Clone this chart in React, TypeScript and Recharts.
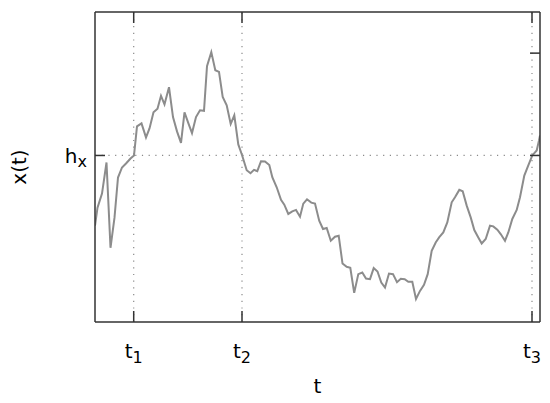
import React from 'react';
import { LineChart, Line, XAxis, YAxis, ReferenceLine } from 'recharts';

const times = [
  0, 2.5, 7, 11.5, 15.5, 19.5, 23, 27, 31, 35.5, 39, 42, 46.5, 51, 54.5, 58.5, 62.5, 66, 69.5, 74,
  78, 82, 86, 89.5, 93.5, 97, 101, 105, 109, 112, 116.3, 120.3, 124, 127.7, 131.7, 135.7, 139.3, 143.3, 147, 151.7,
  155.5, 159, 162.3, 166, 170, 174.3, 177.3, 181.7, 186, 189.3, 193.3, 197.3, 201, 205, 208.3, 212, 216.3, 220, 224.2, 228,
  231.7, 235.8, 240, 243.7, 247.5, 251.7, 255.3, 259.2, 263.3, 267.3, 271, 275, 278.7, 282.5, 286.3, 290, 294, 298, 302, 305.8,
  309.7, 313.3, 317.3, 321, 325, 329, 332.7, 336.7, 340.7, 344.3, 348.3, 352.3, 356.7, 360, 364.3, 367.7, 371.7, 375.7, 379.3, 383.3,
  386.7, 390.7, 395, 398.3, 402.3, 405.7, 410, 413.3, 417.3, 421.7, 425, 429.3, 433.3, 437.3, 441.7, 444, 445,
];

const values = [
  96, 114, 128, 159, 74, 104, 144, 154, 158, 163, 166, 195, 198, 184, 193, 209, 212.5, 225.5, 217, 234,
  204.3, 190, 178.5, 209, 197.7, 188.3, 204.3, 211, 210.5, 255, 269, 251, 249.3, 224.3, 216, 197.5, 206, 177, 166.5, 151.3,
  148.3, 151.7, 150.3, 160.3, 160, 156.5, 144.3, 134.3, 121.7, 117, 107.7, 110.3, 111.7, 105, 118, 122.3, 119, 118, 101, 92.7,
  93.7, 81, 85, 86, 58.3, 55, 54, 29, 47.7, 49.3, 43.3, 42.7, 53.7, 50.3, 39.3, 34.3, 48.3, 47.7, 39.7, 43,
  42.7, 40, 40, 23, 31, 37, 47.7, 71, 79.3, 84.5, 89.3, 99.3, 119.3, 124.3, 131.7, 130.3, 116, 104.3, 91.7, 84.3,
  78.3, 82.7, 96, 95.3, 92, 87.7, 81, 89.3, 102.7, 111.7, 124.3, 146, 156, 166, 171, 181, 186,
];

const timeTicks = [38.7, 147, 437];
const timeTickLabels = ['1', '2', '3'];
const levelTicks = [166];
const levelTickLabels = ['x'];
const rightTicks = [166, 268];

const data = times.map((t, i) => ({ t, x: values[i] }));

const FONT = '"DejaVu Sans", sans-serif';
const AX = '#333';
const DOT = '#8a8a8a';

const BottomTick = (props: any) => {
  const { x, y, payload } = props;
  const i = timeTicks.indexOf(payload.value);
  return (
    <g>
      <line x1={x} x2={x} y1={y} y2={y - 11} stroke={AX} strokeWidth={1.5} />
      <text x={x} y={y + 36} textAnchor="middle" fontFamily={FONT} fontSize={20} fill="#000">
        t<tspan fontSize={16} dy={5}>{timeTickLabels[i]}</tspan>
      </text>
    </g>
  );
};

const TopTick = (props: any) => {
  const { x, y } = props;
  return <line x1={x} x2={x} y1={y} y2={y + 11} stroke={AX} strokeWidth={1.5} />;
};

const LeftTick = (props: any) => {
  const { x, y, payload } = props;
  const i = levelTicks.indexOf(payload.value);
  return (
    <g>
      <line x1={x} x2={x + 10} y1={y} y2={y} stroke={AX} strokeWidth={1.5} />
      <text x={x - 8} y={y + 8} textAnchor="end" fontFamily={FONT} fontSize={20} fill="#000">
        h<tspan fontSize={16} dy={4}>{levelTickLabels[i]}</tspan>
      </text>
    </g>
  );
};

const RightTick = (props: any) => {
  const { x, y } = props;
  return <line x1={x} x2={x - 10} y1={y} y2={y} stroke={AX} strokeWidth={1.5} />;
};

export default function App() {
  return (
    <div style={{ position: 'absolute', left: 0, top: 0, width: 550, height: 403, background: '#fff' }}>
      <LineChart width={550} height={403} data={data} margin={{ top: 11, right: 9, bottom: 21, left: 20 }}>
        <XAxis
          dataKey="t"
          type="number"
          domain={[0, 445]}
          allowDataOverflow
          ticks={timeTicks}
          tick={BottomTick}
          tickLine={false}
          tickSize={0}
          tickMargin={0}
          height={60}
          axisLine={{ stroke: AX, strokeWidth: 1.5 }}
          interval={0}
          label={{
            content: (p: any) => {
              const vb = p.viewBox || {};
              return (
                <text x={vb.x + vb.width / 2} y={vb.y + 71} textAnchor="middle" fontFamily={FONT} fontSize={20} fill="#000">
                  t
                </text>
              );
            },
          }}
        />
        <XAxis
          xAxisId="top"
          orientation="top"
          dataKey="t"
          type="number"
          domain={[0, 445]}
          allowDataOverflow
          ticks={timeTicks}
          tick={TopTick}
          tickLine={false}
          tickSize={0}
          tickMargin={0}
          height={1}
          axisLine={{ stroke: AX, strokeWidth: 1.5 }}
          interval={0}
        />
        <YAxis
          type="number"
          domain={[0, 309]}
          allowDataOverflow
          ticks={levelTicks}
          tick={LeftTick}
          tickLine={false}
          tickSize={0}
          tickMargin={0}
          width={75}
          axisLine={{ stroke: AX, strokeWidth: 1.5 }}
          interval={0}
          label={{
            content: (p: any) => {
              const vb = p.viewBox || {};
              const cx = 26;
              const cy = vb.y + vb.height / 2;
              return (
                <text x={cx} y={cy} textAnchor="middle" fontFamily={FONT} fontSize={20} fill="#000" transform={`rotate(-90, ${cx}, ${cy})`}>
                  x(t)
                </text>
              );
            },
          }}
        />
        <YAxis
          yAxisId="right"
          orientation="right"
          type="number"
          domain={[0, 309]}
          allowDataOverflow
          ticks={rightTicks}
          tick={RightTick}
          tickLine={false}
          tickSize={0}
          tickMargin={0}
          width={1}
          axisLine={{ stroke: AX, strokeWidth: 1.5 }}
          interval={0}
        />
        {timeTicks.map((v) => (
          <ReferenceLine key={v} x={v} stroke={DOT} strokeWidth={1.2} strokeDasharray="1.2 5.5" />
        ))}
        <ReferenceLine y={levelTicks[0]} stroke={DOT} strokeWidth={1.2} strokeDasharray="1.2 5.5" />
        <Line type="linear" dataKey="x" stroke="#8c8c8c" strokeWidth={2} dot={false} isAnimationActive={false} />
      </LineChart>
    </div>
  );
}
